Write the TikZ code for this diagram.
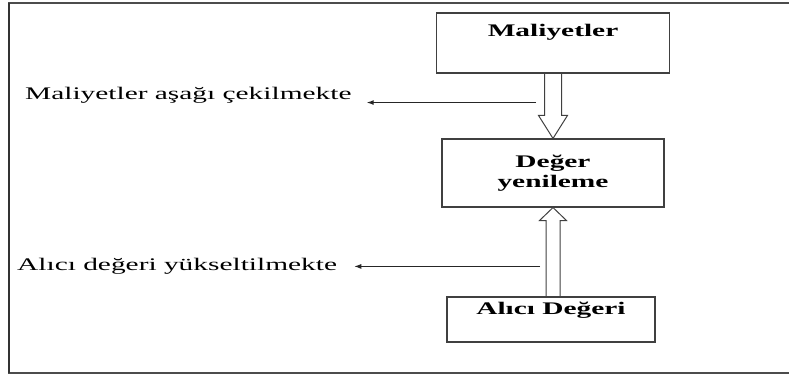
\documentclass[tikz,border=0pt]{standalone}
\usepackage{fontspec}
\setmainfont{Liberation Serif}[FakeStretch=1.66]
\usetikzlibrary{arrows.meta, positioning, calc}

\begin{document}
\begin{tikzpicture}[
    x=1pt, y=1pt,
    box/.style={
      rectangle, draw=black!75, line width=1.1pt,
      align=center, inner sep=0pt,
      font=\bfseries\fontsize{17.7}{20}\selectfont
    },
    lbl/.style={
      inner sep=0pt, anchor=base west,
      font=\fontsize{17.7}{17}\selectfont
    },
    hollow/.style={draw=black!75, line width=1pt, line join=miter},
    arr/.style={-{Latex[length=7pt, width=5pt]}, line width=1pt, color=black!85}
  ]
    \useasboundingbox (0,0) rectangle (789,374);
    \draw[black!70, line width=1.2pt] (9,1) rectangle (800,371);
    \draw[black!80, line width=1.4pt] (9,1) -- (9,371);

    \node[box, minimum width=233pt, text height=23.7pt, text depth=36.3pt]
      (mal) at (553,331) {Maliyetler};
    \node[box, minimum width=222pt, minimum height=68pt]
      (deg) at (553,201) {Değer\\yenileme};
    \node[box, minimum width=208pt, text height=17.3pt, text depth=27.7pt]
      (alici) at (551,54.5) {Alıcı Değeri};

    \node[lbl] (lbl1) at (25,274) {Maliyetler aşağı çekilmekte};
    \node[lbl] (lbl2) at (17,103) {Alıcı değeri yükseltilmekte};

    % hollow block arrows
    \draw[hollow] ($(mal.south)+(-8.5,0)$) -- ($(deg.north)+(-8.5,23)$)
      -- ($(deg.north)+(-14.5,23)$) -- (deg.north)
      -- ($(deg.north)+(14.5,23)$) -- ($(deg.north)+(8.5,23)$)
      -- ($(mal.south)+(8.5,0)$);
    \draw[hollow] ($(deg.south |- alici.north)+(-7,0)$) -- ($(deg.south)+(-7,-13)$)
      -- ($(deg.south)+(-13.5,-13)$) -- (deg.south)
      -- ($(deg.south)+(13.5,-13)$) -- ($(deg.south)+(7,-13)$)
      -- ($(deg.south |- alici.north)+(7,0)$);

    \coordinate (c1) at ($(mal.south)+(-17,-29)$);
    \coordinate (c2) at ($(alici.north)+(-11,30)$);
    \draw[arr] (c1) -- ($(lbl1.east |- c1)+(15,0)$);
    \draw[arr] (c2) -- ($(lbl2.east |- c2)+(17,0)$);
  \end{tikzpicture}
\end{document}
